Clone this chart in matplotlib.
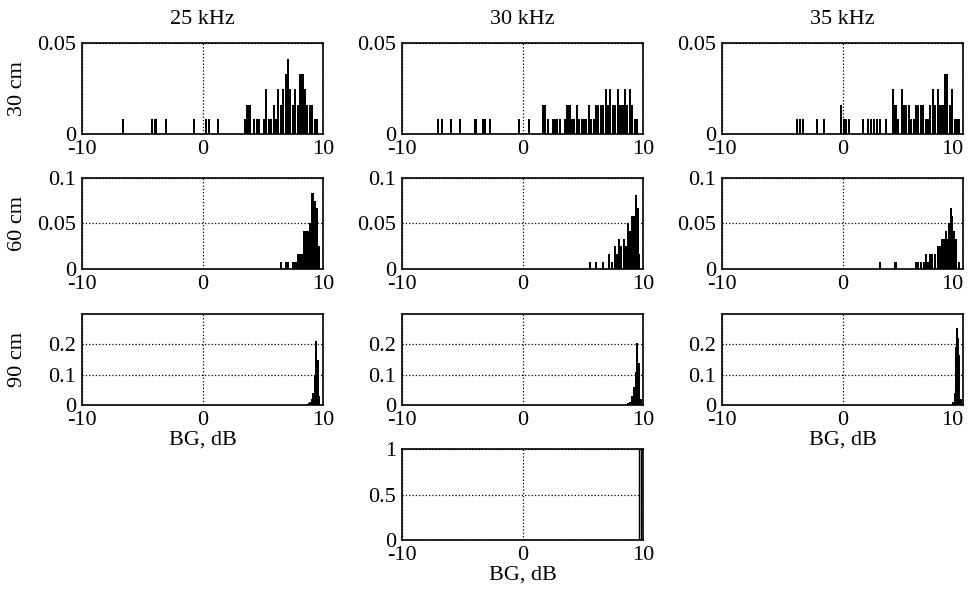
import matplotlib
matplotlib.use("Agg")
import matplotlib.pyplot as plt

plt.rcParams["font.family"] = ["Liberation Serif", "DejaVu Serif"]
plt.rcParams["font.size"] = 16

freqs = ["25 kHz", "30 kHz", "35 kHz"]
depths = ["30 cm", "60 cm", "90 cm"]

# BG bin centres (dB) and relative frequency
x_25_30 = [-6.6, -4.2, -3.9, -3.0, -0.7, 0.3, 0.5, 1.3, 3.5, 3.7, 3.9, 4.3, 4.5, 4.7,
           5.1, 5.3, 5.5, 5.7, 5.9, 6.1, 6.3, 6.5, 6.7, 6.9, 7.1, 7.3, 7.5, 7.7, 7.9,
           8.1, 8.3, 8.5, 8.7, 8.9, 9.1, 9.3, 9.5]
h_25_30 = [0.008, 0.008, 0.008, 0.008, 0.008, 0.008, 0.008, 0.008, 0.008, 0.016, 0.016,
           0.008, 0.008, 0.008, 0.008, 0.025, 0.008, 0.008, 0.016, 0.008, 0.025, 0.016,
           0.025, 0.033, 0.041, 0.025, 0.016, 0.025, 0.016, 0.033, 0.033, 0.025, 0.016,
           0.016, 0.016, 0.008, 0.008]

x_30_30 = [-7.0, -6.7, -5.9, -5.2, -3.9, -3.3, -3.1, -2.7, -0.3, 0.5, 1.7, 1.9, 2.1,
           2.5, 2.7, 2.9, 3.1, 3.5, 3.7, 3.9, 4.1, 4.3, 4.5, 4.7, 4.9, 5.1, 5.3, 5.5,
           5.7, 5.9, 6.1, 6.3, 6.5, 6.7, 6.9, 7.1, 7.3, 7.5, 7.7, 7.9, 8.1, 8.3, 8.5,
           8.7, 8.9, 9.1, 9.3, 9.5]
h_30_30 = [0.008, 0.008, 0.008, 0.008, 0.008, 0.008, 0.008, 0.008, 0.008, 0.008, 0.016,
           0.016, 0.008, 0.008, 0.008, 0.008, 0.008, 0.008, 0.016, 0.016, 0.008, 0.008,
           0.016, 0.008, 0.008, 0.008, 0.008, 0.016, 0.008, 0.008, 0.016, 0.016, 0.016,
           0.016, 0.025, 0.016, 0.025, 0.016, 0.016, 0.025, 0.016, 0.016, 0.025, 0.016,
           0.025, 0.016, 0.008, 0.008]

x_35_30 = [-3.8, -3.5, -3.3, -2.1, -1.5, -0.1, 0.1, 0.3, 0.5, 1.7, 2.1, 2.4, 2.6, 2.9,
           3.1, 3.6, 4.2, 4.4, 4.6, 4.9, 5.1, 5.3, 5.5, 5.7, 5.9, 6.1, 6.3, 6.5, 6.7,
           6.9, 7.1, 7.3, 7.5, 7.7, 7.9, 8.1, 8.3, 8.5, 8.7, 8.9, 9.1, 9.3, 9.5, 9.7]
h_35_30 = [0.008, 0.008, 0.008, 0.008, 0.008, 0.016, 0.008, 0.008, 0.008, 0.008, 0.008,
           0.008, 0.008, 0.008, 0.008, 0.008, 0.025, 0.016, 0.008, 0.025, 0.016, 0.016,
           0.016, 0.008, 0.008, 0.016, 0.016, 0.016, 0.016, 0.008, 0.008, 0.016, 0.025,
           0.016, 0.025, 0.016, 0.016, 0.033, 0.033, 0.016, 0.025, 0.008, 0.008, 0.008]

x_25_60 = [6.55, 6.95, 7.1, 7.5, 7.65, 7.8, 7.95, 8.1, 8.25, 8.4, 8.55, 8.75, 8.9,
           9.05, 9.2, 9.35, 9.5, 9.65]
h_25_60 = [0.008, 0.008, 0.008, 0.008, 0.008, 0.008, 0.016, 0.016, 0.016, 0.042, 0.042,
           0.042, 0.05, 0.083, 0.083, 0.075, 0.067, 0.025]

x_30_60 = [5.6, 6.1, 6.7, 7.2, 7.45, 7.65, 7.85, 8.0, 8.2, 8.4, 8.55, 8.75, 8.95, 9.1,
           9.25, 9.4, 9.55, 9.7]
h_30_60 = [0.008, 0.008, 0.008, 0.016, 0.008, 0.025, 0.016, 0.033, 0.025, 0.033, 0.025,
           0.05, 0.042, 0.058, 0.058, 0.081, 0.067, 0.016]

x_35_60 = [3.15, 4.4, 6.1, 6.3, 6.55, 6.75, 6.9, 7.1, 7.3, 7.45, 7.7, 7.9, 8.05, 8.25,
           8.4, 8.55, 8.7, 8.85, 9.0, 9.1, 9.25, 9.45, 9.65]
h_35_60 = [0.008, 0.008, 0.008, 0.008, 0.008, 0.008, 0.016, 0.008, 0.016, 0.017, 0.017,
           0.025, 0.025, 0.033, 0.033, 0.042, 0.033, 0.05, 0.067, 0.058, 0.042, 0.033,
           0.008]

x_25_90 = [8.65, 8.8, 8.95, 9.1, 9.2, 9.35, 9.45, 9.6, 9.7]
h_25_90 = [0.004, 0.006, 0.01, 0.02, 0.04, 0.1, 0.21, 0.15, 0.03]

x_30_90 = [8.75, 8.95, 9.1, 9.25, 9.4, 9.5, 9.65, 9.8]
h_30_90 = [0.005, 0.01, 0.03, 0.06, 0.11, 0.205, 0.14, 0.02]

x_35_90 = [9.2, 9.35, 9.43, 9.5, 9.6, 9.67, 9.8]
h_35_90 = [0.01, 0.04, 0.19, 0.255, 0.22, 0.165, 0.02]

x_30_120 = [9.75]
h_30_120 = [1.0]

panels = [
    (0, 0, x_25_30, h_25_30), (0, 1, x_30_30, h_30_30), (0, 2, x_35_30, h_35_30),
    (1, 0, x_25_60, h_25_60), (1, 1, x_30_60, h_30_60), (1, 2, x_35_60, h_35_60),
    (2, 0, x_25_90, h_25_90), (2, 1, x_30_90, h_30_90), (2, 2, x_35_90, h_35_90),
    (3, 1, x_30_120, h_30_120),
]

row_ylim = [0.05, 0.1, 0.3, 1.0]
row_yticks = [[0, 0.05], [0, 0.05, 0.1], [0, 0.1, 0.2], [0, 0.5, 1]]
row_ylabels = [["0", "0.05"], ["0", "0.05", "0.1"], ["0", "0.1", "0.2"], ["0", "0.5", "1"]]

W, H = 972, 595
col_left = [82, 402, 722]
row_top = [43, 178, 314, 449]
ax_w, ax_h = 241, 91

fig = plt.figure(figsize=(W / 100, H / 100), dpi=100)

for r, c, xs, hs in panels:
    ax = fig.add_axes([col_left[c] / W, 1 - (row_top[r] + ax_h) / H, ax_w / W, ax_h / H])
    if r == 3:
        ax.bar(xs, hs, width=0.22, color="white", edgecolor="black", linewidth=1.0)
    else:
        ax.bar(xs, hs, width=0.17, color="black", linewidth=0)
    ax.set_xlim(-10, 10)
    ax.set_ylim(0, row_ylim[r])
    ax.set_xticks([-10, 0, 10])
    ax.set_xticklabels(["-10", "0", "10"])
    ax.set_yticks(row_yticks[r])
    ax.set_yticklabels(row_ylabels[r])
    ax.tick_params(length=0)
    ax.tick_params(axis="x", pad=4)
    ax.tick_params(axis="y", pad=4)
    if c == 2:
        # keep the right-most "10" inside the figure
        ax.get_xticklabels()[-1].set_horizontalalignment("right")
    ax.grid(True, linestyle=":", color="black", linewidth=0.9)
    ax.set_axisbelow(False)
    for s in ax.spines.values():
        s.set_linewidth(1.2)
    if (r == 2 and c != 1) or r == 3:
        ax.set_xlabel("BG, dB", labelpad=1)

for c, f in enumerate(freqs):
    fig.text((col_left[c] + ax_w / 2) / W, 1 - 20 / H, f, ha="center", va="center")

for r, d in enumerate(depths):
    fig.text(18 / W, 1 - (row_top[r] + ax_h / 2) / H, d, rotation=90,
             ha="center", va="center")

fig.savefig("out.png", dpi=100)
